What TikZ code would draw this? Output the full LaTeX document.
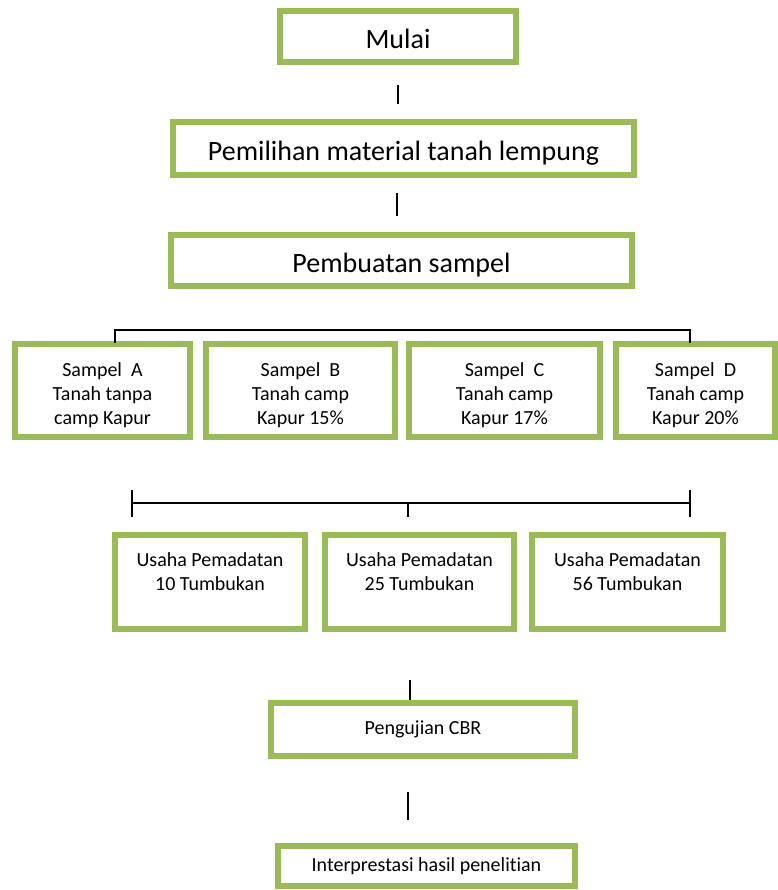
\documentclass[tikz,border=0pt]{standalone}
\usepackage{fontspec}
\setmainfont{Carlito}[Ligatures=NoCommon]
\usetikzlibrary{positioning, calc}
\definecolor{boxgreen}{HTML}{9BBB59}

\begin{document}
\begin{tikzpicture}[x=0.75pt, y=-0.75pt,
  box/.style={draw=boxgreen, line width=4.5pt, fill=white, inner sep=0pt, align=center},
  big/.style={font=\fontsize{21}{25}\selectfont, text height=18pt, text depth=0pt},
  small/.style={font=\fontsize{15}{18}\selectfont, align=center},
  link/.style={black, line width=1.1pt}]
  \useasboundingbox (0,0) rectangle (778,890);
  % main steps
  \node[box, big, minimum width=177pt, minimum height=38.25pt] (mulai) at (398,36.5) {Mulai};
  \node[box, big, minimum width=345.75pt, minimum height=39.75pt] (pilih) at (403.5,148.5) {Pemilihan material tanah lempung};
  \node[box, big, minimum width=345.75pt, minimum height=38.25pt] (buat) at (401.5,260.5) {Pembuatan sampel};
  \draw[link] ($(mulai.south)+(0,20)$) -- ($(mulai.south |- pilih.north)+(0,-15)$);
  \draw[link] ($(buat.north |- pilih.south)+(-4.5,15)$) -- ($(buat.north)+(-4.5,-16)$);
  % samples
  \node[box, minimum width=131.25pt, minimum height=69.75pt] (sA) at (102.5,390.5) {};
  \node[box, minimum width=141.75pt, minimum height=69.75pt] (sB) at (300.5,390.5) {};
  \node[box, minimum width=143.25pt, minimum height=69.75pt] (sC) at (504.5,390.5) {};
  \node[box, minimum width=119.25pt, minimum height=69.75pt] (sD) at (695.5,390.5) {};
  \node[small] (sAt) at (102.5,395) {Sampel~~A\\Tanah tanpa\\camp Kapur};
  \node[small] (sBt) at (300.5,395) {Sampel~~B\\Tanah camp\\Kapur 15\%};
  \node[small] (sCt) at (504.5,395) {Sampel~~C\\Tanah camp\\Kapur 17\%};
  \node[small] (sDt) at (695.5,395) {Sampel~~D\\Tanah camp\\Kapur 20\%};
  \draw[link] ($(sA.north)+(12.5,2)$) -- ++(0,-13) -| ($(sD.north)+(-5.5,2)$);
  % compaction
  \coordinate (bl) at (132,503);
  \coordinate (bm) at (408,503);
  \coordinate (br) at (690,503);
  \draw[link] (bl) -- (br);
  \draw[link] ($(bl)+(0,-13)$) -- ($(bl)+(0,14)$);
  \draw[link] ($(br)+(0,-13)$) -- ($(br)+(0,14)$);
  \draw[link] (bm) -- ($(bm)+(0,14)$);
  \node[box, minimum width=142.5pt, minimum height=70.5pt] (u1) at (210,582) {};
  \node[box, minimum width=141.75pt, minimum height=70.5pt] (u2) at (419.5,582) {};
  \node[box, minimum width=143.25pt, minimum height=70.5pt] (u3) at (627.5,582) {};
  \node[small] (u1t) at (210,572) {Usaha Pemadatan\\10 Tumbukan};
  \node[small] (u2t) at (419.5,572) {Usaha Pemadatan\\25 Tumbukan};
  \node[small] (u3t) at (627.5,572) {Usaha Pemadatan\\56 Tumbukan};
  % testing
  \node[box, small, minimum width=228pt, minimum height=39.75pt] (cbr) at (423,729.5) {Pengujian CBR};
  \node[box, small, minimum width=222.75pt, minimum height=30pt] (hasil) at (426.5,866) {Interprestasi hasil penelitian};
  \draw[link] ($(cbr.north)+(-13,-20)$) -- ($(cbr.north)+(-13,0)$);
  \draw[link] ($(cbr.south)+(-15,33)$) -- ($(hasil.north)+(-18.5,-23)$);
\end{tikzpicture}
\end{document}
